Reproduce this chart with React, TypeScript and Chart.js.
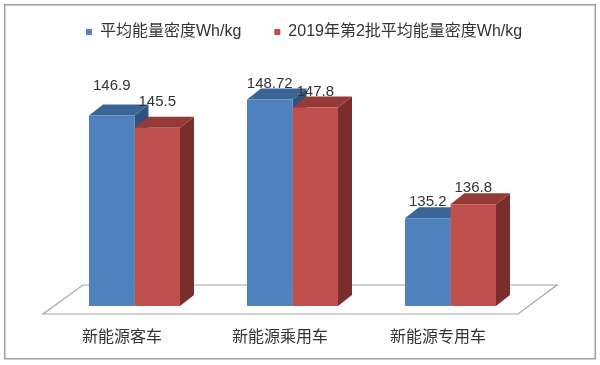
import React, { useEffect, useRef } from "react";
import { Chart, registerables } from "chart.js";

Chart.register(...registerables);

const categories = ["新能源客车", "新能源乘用车", "新能源专用车"];
const seriesNames = ["平均能量密度Wh/kg", "2019年第2批平均能量密度Wh/kg"];
const avgDensity = [146.9, 148.72, 135.2];
const batch2Density = [145.5, 147.8, 136.8];

const FONT = '"Liberation Sans", "Noto Sans CJK SC", sans-serif';
const frontColors = ["#4F81BD", "#C0504D"];
const topColors = ["#3A6597", "#963A38"];
const sideColors = ["#2F5380", "#7A2E2C"];
const labelLift = [
  [30, 16, 16],
  [26, 16, 16],
];
const DEPTH_X = 14;
const DEPTH_Y = 11;

const threeD = {
  id: "threeD",
  beforeDatasetsDraw(chart: any) {
    const ctx = chart.ctx;
    const area = chart.chartArea;
    const base = area.bottom;
    ctx.save();
    // floor
    ctx.beginPath();
    ctx.moveTo(area.left - 12.5, base + 8);
    ctx.lineTo(area.right - 11.5, base + 8);
    ctx.lineTo(area.right + 27.5, base - 21);
    ctx.lineTo(area.left + 27.5, base - 21);
    ctx.closePath();
    ctx.fillStyle = "#FFFFFF";
    ctx.fill();
    ctx.strokeStyle = "#A6A6A6";
    ctx.lineWidth = 1.2;
    ctx.stroke();

    const n = chart.data.labels.length;
    for (let i = 0; i < n; i++) {
      chart.data.datasets.forEach((_ds: any, d: number) => {
        const el = chart.getDatasetMeta(d).data[i];
        if (!el) return;
        const w = el.width;
        const l = el.x - w / 2;
        const r = el.x + w / 2;
        const y = el.y;
        const b = Math.min(el.base, area.bottom);
        // side
        ctx.beginPath();
        ctx.moveTo(r, y);
        ctx.lineTo(r + DEPTH_X, y - DEPTH_Y);
        ctx.lineTo(r + DEPTH_X, b - DEPTH_Y);
        ctx.lineTo(r, b);
        ctx.closePath();
        ctx.fillStyle = sideColors[d];
        ctx.fill();
        // top
        ctx.beginPath();
        ctx.moveTo(l, y);
        ctx.lineTo(r, y);
        ctx.lineTo(r + DEPTH_X, y - DEPTH_Y);
        ctx.lineTo(l + DEPTH_X, y - DEPTH_Y);
        ctx.closePath();
        ctx.fillStyle = topColors[d];
        ctx.fill();
      });
    }
    ctx.restore();
  },
  afterDatasetsDraw(chart: any) {
    const ctx = chart.ctx;
    ctx.save();
    ctx.font = `15px ${FONT}`;
    ctx.fillStyle = "#333333";
    ctx.textAlign = "center";
    ctx.textBaseline = "middle";
    chart.data.datasets.forEach((ds: any, d: number) => {
      chart.getDatasetMeta(d).data.forEach((el: any, i: number) => {
        ctx.fillText(String(ds.data[i]), el.x, el.y - labelLift[d][i]);
      });
    });
    ctx.restore();
  },
  afterDraw(chart: any) {
    const ctx = chart.ctx;
    ctx.save();
    // outer frame
    ctx.strokeStyle = "#9E9E9E";
    ctx.lineWidth = 1.5;
    ctx.strokeRect(4.75, 4.75, 590.5, 354);
    // legend
    ctx.font = `16px ${FONT}`;
    ctx.textBaseline = "middle";
    ctx.textAlign = "left";
    let x = 86;
    const y = 32;
    chart.data.datasets.forEach((ds: any, d: number) => {
      ctx.fillStyle = frontColors[d];
      ctx.fillRect(x, y - 3, 6, 6);
      ctx.fillStyle = "#333333";
      ctx.fillText(ds.label, x + 14, y);
      x += 14 + ctx.measureText(ds.label).width + 33;
    });
    ctx.restore();
  },
};

export default function App() {
  const ref = useRef<HTMLCanvasElement>(null);
  useEffect(() => {
    if (!ref.current) return;
    const chart = new Chart(ref.current, {
      type: "bar",
      data: {
        labels: categories,
        datasets: [
          {
            label: seriesNames[0],
            data: avgDensity,
            backgroundColor: frontColors[0],
            borderWidth: 0,
            barPercentage: 1,
            categoryPercentage: 0.576,
          },
          {
            label: seriesNames[1],
            data: batch2Density,
            backgroundColor: frontColors[1],
            borderWidth: 0,
            barPercentage: 1,
            categoryPercentage: 0.576,
          },
        ],
      },
      options: {
        responsive: true,
        maintainAspectRatio: false,
        animation: false,
        layout: { padding: { left: 55.5, right: 70.5, top: 60, bottom: 19 } },
        plugins: { legend: { display: false }, tooltip: { enabled: false } },
        scales: {
          x: {
            grid: { display: false, drawTicks: false },
            border: { display: false },
            afterFit: (scale: any) => {
              scale.height = 40;
            },
            ticks: {
              font: { size: 16, family: FONT },
              color: "#333333",
              padding: 22,
              labelOffset: -12.5,
              maxRotation: 0,
              minRotation: 0,
            },
          },
          y: { display: false, min: 125.2, max: 153.22 },
        },
      },
      plugins: [threeD],
    });
    return () => chart.destroy();
  }, []);
  return (
    <div style={{ position: "fixed", left: 0, top: 0, width: 600, height: 365, background: "#fff" }}>
      <canvas ref={ref} />
    </div>
  );
}
